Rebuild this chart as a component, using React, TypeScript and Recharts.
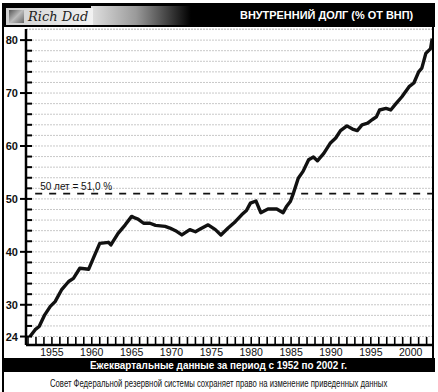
import { useLayoutEffect, useRef, useState } from 'react'
import { LineChart, Line, XAxis, YAxis, CartesianGrid, ReferenceLine } from 'recharts'

// квартальные точки (год, % от ВНП)
const years = [
  1952.25, 1952.9, 1953.4, 1954.1, 1954.8, 1955.4, 1956.2, 1957.1, 1957.7, 1958.5,
  1959.1, 1959.6, 1960.2, 1961.0, 1962.1, 1962.4, 1963.3, 1964.2, 1965.0, 1965.4,
  1965.8, 1966.5, 1967.3, 1968.0, 1968.6, 1969.2, 1969.8, 1970.5, 1971.3, 1972.3,
  1973.0, 1973.6, 1974.6, 1975.5, 1976.2, 1977.1, 1978.0, 1978.8, 1979.4, 1979.9,
  1980.6, 1981.2, 1982.1, 1983.2, 1984.0, 1984.4, 1984.9, 1985.3, 1985.9, 1986.5,
  1987.2, 1987.8, 1988.3, 1989.1, 1989.9, 1990.6, 1991.2, 1992.0, 1992.7, 1993.3,
  1993.9, 1994.6, 1995.2, 1995.7, 1996.1, 1996.9, 1997.5, 1998.1, 1998.9, 1999.8,
  2000.4, 2001.0, 2001.4, 2001.9, 2002.5, 2002.7,
]
const debt = [
  24.0, 25.3, 25.9, 28.1, 29.7, 30.6, 32.8, 34.4, 35.0, 36.9,
  36.8, 36.7, 38.8, 41.6, 41.8, 41.3, 43.5, 45.1, 46.7, 46.4,
  46.2, 45.4, 45.4, 45.0, 44.9, 44.8, 44.5, 44.0, 43.2, 44.2,
  43.8, 44.3, 45.1, 44.2, 43.2, 44.5, 45.7, 47.0, 47.8, 49.2,
  49.6, 47.4, 48.1, 48.1, 47.4, 48.5, 49.5, 51.1, 53.9, 55.2,
  57.4, 57.9, 57.2, 58.6, 60.5, 61.5, 62.9, 63.8, 63.2, 62.9,
  64.0, 64.3, 65.0, 65.5, 66.8, 67.1, 66.8, 67.9, 69.3, 71.2,
  71.9, 74.0, 74.7, 77.5, 78.4, 80.3,
]

const average = 51
const averageLabel = '50 лет = 51,0 %'
const title = 'ВНУТРЕННИЙ ДОЛГ (% ОТ ВНП)'
const bandText = 'Ежеквартальные данные за период с 1952 по 2002 г.'
const footnote = 'Совет Федеральной резервной системы сохраняет право на изменение приведенных данных'

const yLabels = [24, 30, 40, 50, 60, 70, 80]
const yTicks: number[] = []
for (let v = 24; v <= 82; v += 2) yTicks.push(v)
const xTicks: number[] = []
for (let y = 1952; y <= 2002; y++) xTicks.push(y)

const data = years.map((year, i) => ({ year, debt: debt[i] }))

const font = '"Liberation Sans", Arial, sans-serif'

const YTick = ({ x, y, payload }: any) => {
  const v = payload.value
  if (v > 80) return null
  const major = yLabels.includes(v)
  return (
    <g>
      <line x1={major ? x - 6 : x} x2={x + 6} y1={y} y2={y} stroke="#000" strokeWidth={2} />
      {major && (
        <text x={x - 8} y={y} dy={4} textAnchor="end" fontSize={11} fontWeight={700} fontFamily={font} fill="#111">
          {v}
        </text>
      )}
    </g>
  )
}

const XTick = ({ x, y, payload }: any) => {
  const v = payload.value
  return (
    <g>
      <line x1={x} x2={x} y1={y - 8} y2={y} stroke="#000" strokeWidth={1.6} />
      {v % 5 === 0 && (
        <text x={x} y={y + 11} textAnchor="middle" fontSize={10.5} fontFamily={font} fill="#111">
          {v}
        </text>
      )}
    </g>
  )
}

const AvgLabel = ({ viewBox }: any) => (
  <text x={viewBox.x + 5} y={viewBox.y - 4} fontSize={10} fontFamily={font} fill="#111">
    {averageLabel}
  </text>
)

// сжатый по ширине текст (в оригинале узкий шрифт)
function Squeezed({ text, left, top, width, style }: { text: string; left: number; top: number; width: number; style: any }) {
  const ref = useRef<HTMLSpanElement>(null)
  const [k, setK] = useState(1)
  useLayoutEffect(() => {
    if (ref.current) setK(width / ref.current.offsetWidth)
  }, [text, width])
  return (
    <span
      ref={ref}
      style={{
        position: 'absolute', left, top, whiteSpace: 'nowrap',
        transform: `scaleX(${k})`, transformOrigin: '0 0', ...style,
      }}
    >
      {text}
    </span>
  )
}

export default function App() {
  return (
    <div style={{ position: 'absolute', left: 0, top: 0, width: 438, height: 392, background: '#fff', overflow: 'hidden' }}>
      <LineChart width={438} height={392} data={data} margin={{ top: 29, right: 5, left: 0, bottom: 0 }}>
        <CartesianGrid vertical={false} stroke="#c8c8c8" strokeDasharray="2 1" />
        <XAxis
          type="number"
          dataKey="year"
          domain={[1951.75, 2002.8]}
          ticks={xTicks}
          interval={0}
          tick={<XTick />}
          tickLine={false}
          tickSize={0}
          tickMargin={0}
          height={47}
          axisLine={{ stroke: '#000', strokeWidth: 2.5 }}
          allowDataOverflow
        />
        <YAxis
          type="number"
          domain={[22.4, 82.1]}
          ticks={yTicks}
          interval={0}
          tick={<YTick />}
          tickLine={false}
          tickSize={0}
          tickMargin={0}
          width={26}
          axisLine={{ stroke: '#000', strokeWidth: 2.5 }}
          allowDataOverflow
        />
        <ReferenceLine
          segment={[{ x: 1952.9, y: average }, { x: 2002.8, y: average }]}
          stroke="#111"
          strokeWidth={1.6}
          strokeDasharray="7 7"
          label={<AvgLabel />}
        />
        <Line
          type="linear"
          dataKey="debt"
          stroke="#111"
          strokeWidth={3.4}
          strokeLinejoin="round"
          dot={false}
          isAnimationActive={false}
        />
      </LineChart>

      {/* рамка */}
      <div style={{ position: 'absolute', left: 2, top: 3, width: 1.5, height: 389, background: '#000' }} />
      <div style={{ position: 'absolute', left: 432, top: 27, width: 1.5, height: 331, background: '#000' }} />

      {/* шапка */}
      <div style={{ position: 'absolute', left: 3, top: 3, width: 432, height: 24, background: '#000' }}>
        <div style={{ position: 'absolute', left: 88, top: 3, width: 100, height: 19, background: 'linear-gradient(to right, #e0e0e0, #9a9a9a 45%, #000)' }} />
        <div style={{ position: 'absolute', left: 3, top: 5, width: 87, height: 17, background: 'linear-gradient(to right, #cfcfcf, #f2f2f2)' }}>
          <div style={{ position: 'absolute', left: 3, top: 2, width: 15, height: 13, background: 'linear-gradient(135deg, #555, #bbb 50%, #666)' }} />
          <span style={{ position: 'absolute', left: 22, top: 0, fontFamily: '"DejaVu Serif", "Liberation Serif", serif', fontStyle: 'italic', fontSize: 13, color: '#222', lineHeight: '17px' }}>
            Rich Dad
          </span>
        </div>
        <Squeezed text={title} left={237} top={4} width={173}
          style={{ fontFamily: font, fontWeight: 700, fontSize: 11.5, lineHeight: '16px', color: '#fff' }} />
      </div>

      {/* нижняя полоса и сноска */}
      <div style={{ position: 'absolute', left: 3, top: 358, width: 432, height: 14, background: '#000' }} />
      <Squeezed text={bandText} left={90} top={358} width={257}
        style={{ fontFamily: font, fontWeight: 700, fontSize: 11.5, lineHeight: '14px', color: '#fff' }} />
      <Squeezed text={footnote} left={50} top={376} width={337}
        style={{ fontFamily: font, fontSize: 11, lineHeight: '14px', color: '#111' }} />
    </div>
  )
}
